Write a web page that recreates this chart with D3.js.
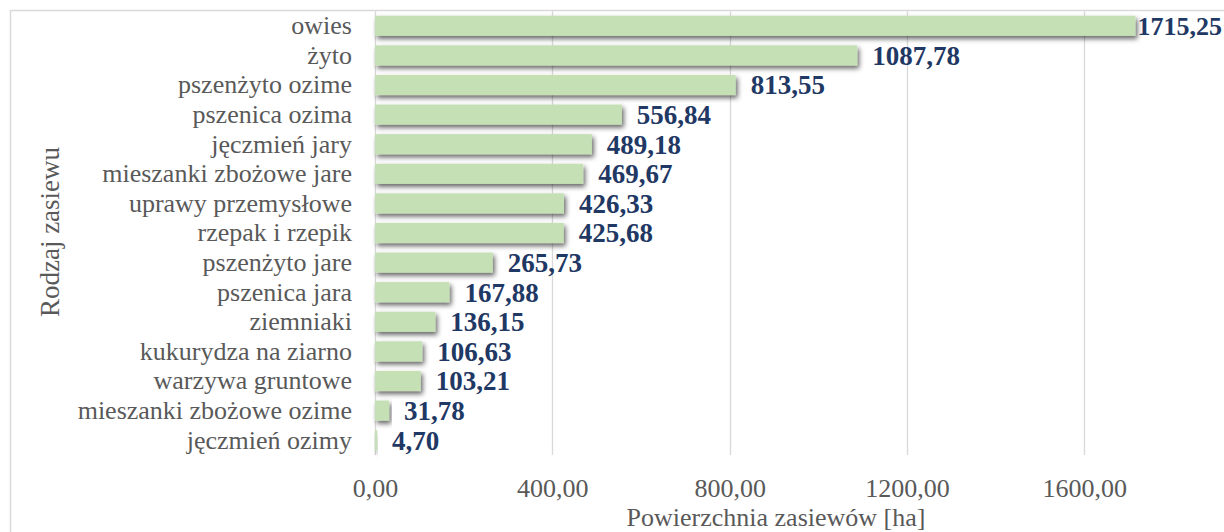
<!DOCTYPE html>
<html>
<head>
<meta charset="utf-8">
<script src="https://cdn.jsdelivr.net/npm/d3@7"></script>
<style>
  html, body { margin: 0; padding: 0; background: #fff; overflow: hidden; }
  svg { display: block; }
  svg text { font-family: "Liberation Serif", "Times New Roman", serif; }
</style>
</head>
<body>
<div id="chart"></div>
<script>
// dane z wykresu (od góry do dołu)
let categories = ['owies', 'żyto', 'pszenżyto ozime', 'pszenica ozima', 'jęczmień jary',
    'mieszanki zbożowe jare', 'uprawy przemysłowe', 'rzepak i rzepik ', 'pszenżyto jare',
    'pszenica jara', 'ziemniaki', 'kukurydza na ziarno', 'warzywa gruntowe',
    'mieszanki zbożowe ozime', 'jęczmień ozimy'];
let values = [1715.25, 1087.78, 813.55, 556.84, 489.18, 469.67, 426.33, 425.68, 265.73,
    167.88, 136.15, 106.63, 103.21, 31.78, 4.70];
let xTicks = [0, 400, 800, 1200, 1600];
let xTitle = 'Powierzchnia zasiewów [ha]';
let yTitle = 'Rodzaj zasiewu';

let width = 1224, height = 532;
let serif = '"Liberation Serif", "Times New Roman", serif';
let fmt = v => d3.format('.2f')(v).replace('.', ',');

let $svg = d3.select('#chart').append('svg')
    .attr('width', width)
    .attr('height', height);

// cień pod słupkami
let $filter = $svg.append('defs').append('filter')
    .attr('id', 'barShadow')
    .attr('x', '-20%').attr('y', '-40%')
    .attr('width', '140%').attr('height', '200%');
$filter.append('feDropShadow')
    .attr('dx', 2).attr('dy', 3)
    .attr('stdDeviation', 2.4)
    .attr('flood-color', '#000')
    .attr('flood-opacity', 0.6);

// ramka wykresu
$svg.append('rect')
    .attr('x', 10.5).attr('y', 10.5)
    .attr('width', 1400).attr('height', 600)
    .attr('fill', 'none')
    .attr('stroke', '#d9d9d9')
    .attr('stroke-width', 1.5);

let x = d3.scaleLinear().domain([0, 2000]).range([375, 1261.6]);
let y = d3.scaleBand().domain(categories).range([11, 455])
    .paddingInner(0.32).paddingOuter(0.16);

// linie siatki
$svg.append('g')
    .selectAll('line')
    .data(xTicks)
    .join('line')
    .attr('x1', d => Math.round(x(d)) + 0.5)
    .attr('x2', d => Math.round(x(d)) + 0.5)
    .attr('y1', 11).attr('y2', 455)
    .attr('stroke', '#d9d9d9')
    .attr('stroke-width', 1.3);

// oś X - etykiety
let xAxis = d3.axisBottom(x).tickValues(xTicks).tickFormat(fmt).tickSize(0).tickPadding(0);
let $xAxis = $svg.append('g')
    .attr('transform', 'translate(0, 497)')
    .call(xAxis);
$xAxis.select('.domain').remove();
$xAxis.selectAll('text')
    .attr('dy', null)
    .style('font-family', serif)
    .style('font-size', '26px')
    .attr('fill', '#595959');

// oś Y - kategorie
let yAxis = d3.axisLeft(y).tickSize(0).tickPadding(0);
let $yAxis = $svg.append('g')
    .attr('transform', 'translate(352, 0)')
    .call(yAxis);
$yAxis.select('.domain').remove();
$yAxis.selectAll('text')
    .style('font-family', serif)
    .style('font-size', '26px')
    .attr('fill', '#595959');

// słupki
$svg.append('g')
    .selectAll('rect')
    .data(values)
    .join('rect')
    .attr('x', x(0))
    .attr('y', (d, i) => y(categories[i]))
    .attr('width', d => x(d) - x(0))
    .attr('height', y.bandwidth())
    .attr('fill', '#c5e0b4')
    .attr('filter', 'url(#barShadow)');

// etykiety wartości
let $labels = $svg.append('g')
    .selectAll('text')
    .data(values)
    .join('text')
    .attr('x', d => x(d) + 15)
    .attr('y', (d, i) => y(categories[i]) + y.bandwidth() / 2)
    .attr('dy', '0.35em')
    .style('font-family', serif)
    .style('font-size', '27px')
    .style('font-weight', 'bold')
    .attr('fill', '#1f3864')
    .text(fmt);
// przesunięcie etykiety, która nie mieści się w obszarze
$labels.each(function (d) {
    let w = this.getComputedTextLength();
    if (x(d) + 15 + w > width - 2) {
        d3.select(this)
            .style('font-size', '26px')
            .attr('x', x(d) + 3);
        w = this.getComputedTextLength();
        d3.select(this).attr('x', Math.min(x(d) + 3, width - 2 - w));
    }
});

// tytuły osi
$svg.append('text')
    .attr('x', 776).attr('y', 526)
    .attr('text-anchor', 'middle')
    .style('font-family', serif)
    .style('font-size', '26px')
    .attr('fill', '#595959')
    .text(xTitle);

$svg.append('text')
    .attr('transform', 'translate(59, 232) rotate(-90)')
    .attr('text-anchor', 'middle')
    .style('font-family', serif)
    .style('font-size', '27px')
    .attr('fill', '#595959')
    .text(yTitle);
</script>
</body>
</html>
